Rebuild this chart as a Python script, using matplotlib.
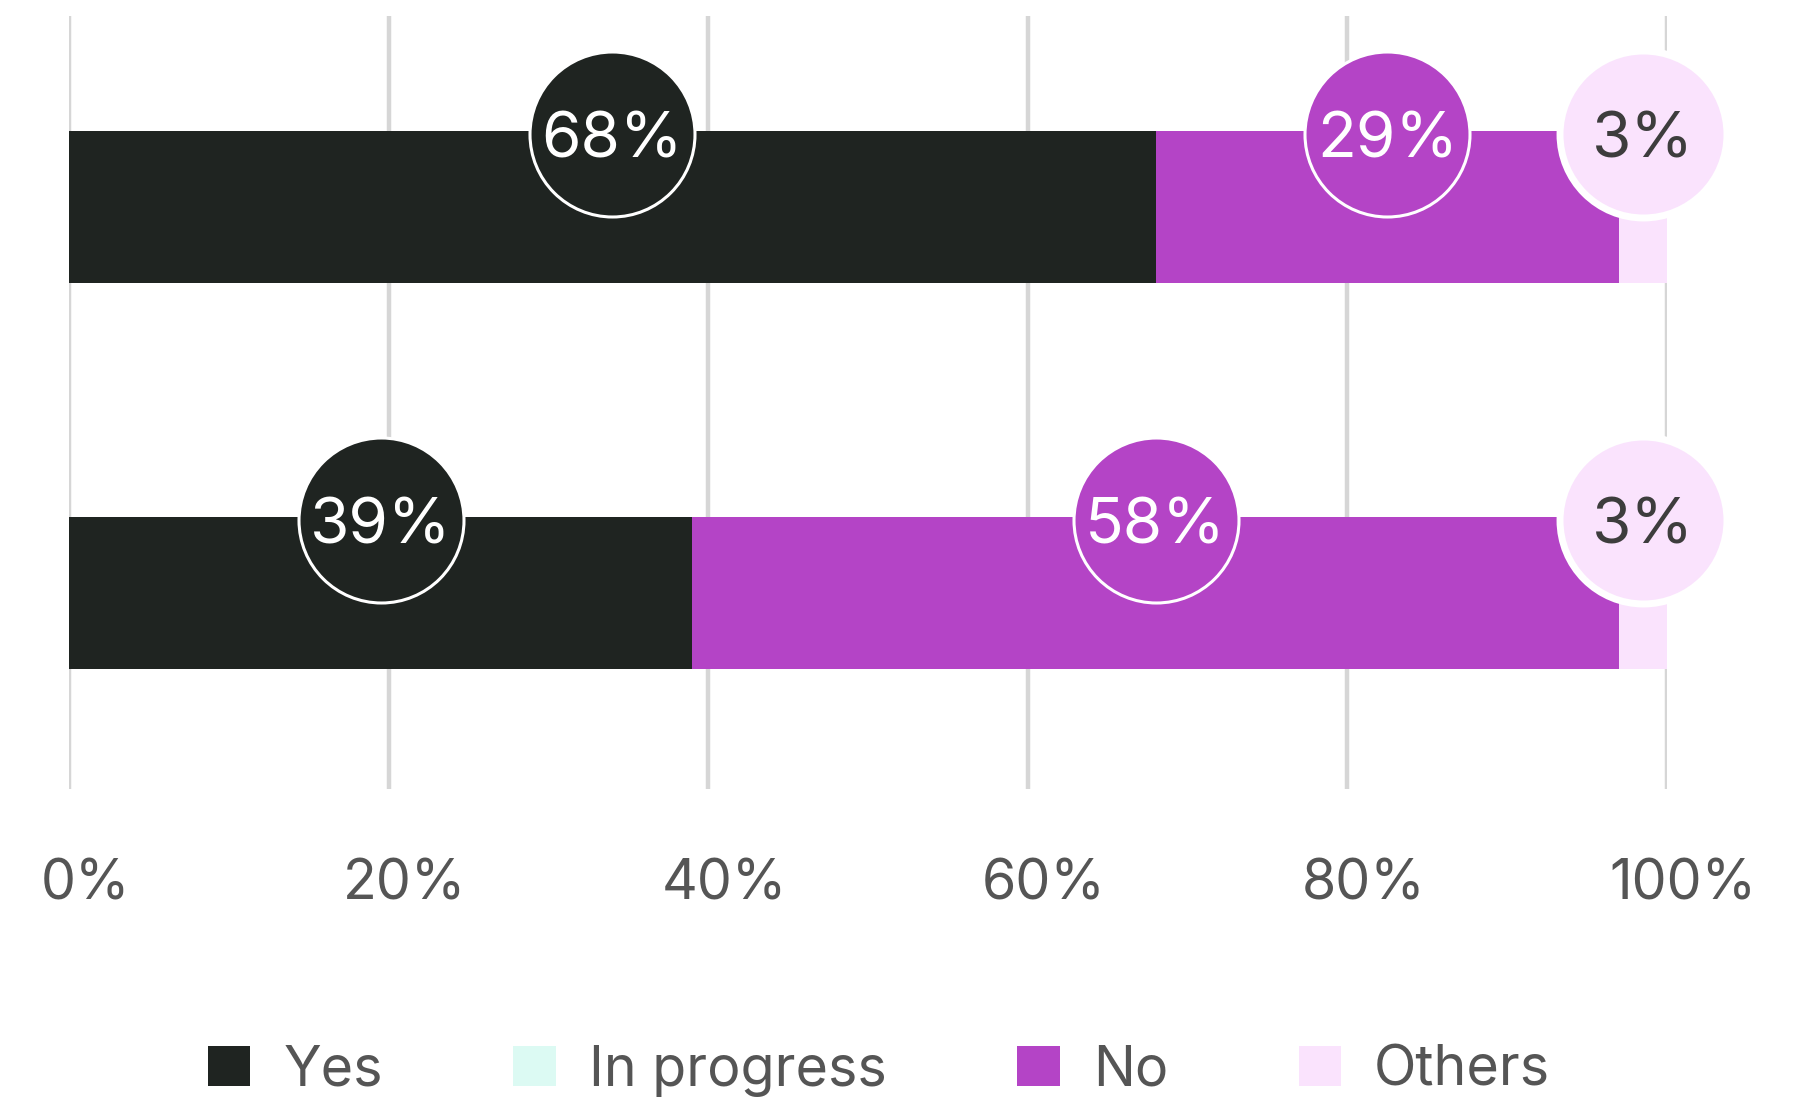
import numpy as np
import matplotlib.pyplot as plt
from matplotlib.patches import Patch
from matplotlib.transforms import ScaledTranslation

plt.rcParams['font.family'] = ['Inter', 'DejaVu Sans']

# stacked shares for the two rows (top, bottom)
rows = [0, 1]
series = ['Yes', 'In progress', 'No', 'Others']
yes = [68, 39]
in_progress = [0, 0]
no = [29, 58]
others = [3, 3]
ticks = [0, 20, 40, 60, 80, 100]
tick_labels = ['0%', '20%', '40%', '60%', '80%', '100%']

colors = ['#1f2421', '#dcfaf3', '#b444c6', '#fae3fd']
text_colors = ['white', '#3d3d3d', 'white', '#3d3d3d']
bar_h = 0.396

fig = plt.figure(figsize=(18.14, 10.98), dpi=100)
ax = fig.add_axes([69 / 1814, 309 / 1098, 1598 / 1814, 773 / 1098])

# grid lines
for t in ticks:
    ax.axvline(t, color='#d6d6d6', lw=3.2, zorder=0)

left = np.zeros(len(rows))
data = [yes, in_progress, no, others]
for name, vals, c, tc in zip(series, data, colors, text_colors):
    vals = np.array(vals, dtype=float)
    ax.barh(rows, vals, left=left, height=bar_h, color=c, zorder=2, label=name)
    for r, v, l in zip(rows, vals, left):
        if v <= 0:
            continue
        cx = l + v / 2
        cy = r - bar_h / 2 + 0.01
        if name == 'Others':
            ax.scatter(cx, cy, s=14450, color=c, edgecolor='white', lw=5, zorder=4,
                       clip_on=False)
        else:
            ax.scatter(cx, cy, s=14113, color=c, edgecolor='white', lw=2.2, zorder=4,
                       clip_on=False)
        ax.text(cx, cy, f'{v:.0f}%', color=tc, fontsize=46, ha='center',
                va='center_baseline', zorder=5, clip_on=False)
    left += vals

ax.set_xlim(0, 100)
ax.set_ylim(1.508, -0.495)
ax.set_yticks([])
ax.set_xticks(ticks)
ax.set_xticklabels(tick_labels, fontsize=40, color='#555555')
ax.tick_params(axis='x', length=0, pad=50)
for lab in ax.get_xticklabels():
    lab.set_transform(lab.get_transform() + ScaledTranslation(0.16, 0, fig.dpi_scale_trans))
for s in ax.spines.values():
    s.set_visible(False)

handles = [Patch(facecolor=c, label=n) for c, n in zip(colors, series)]
leg = fig.legend(handles=handles, loc='center', bbox_to_anchor=(0.4846, 0.025), ncol=4,
                 frameon=False, fontsize=40, handlelength=0.76, handleheight=0.72,
                 handletextpad=0.6, columnspacing=2.35, borderpad=0)
for t in leg.get_texts():
    t.set_color('#555555')

fig.savefig('out.png', dpi=100)
